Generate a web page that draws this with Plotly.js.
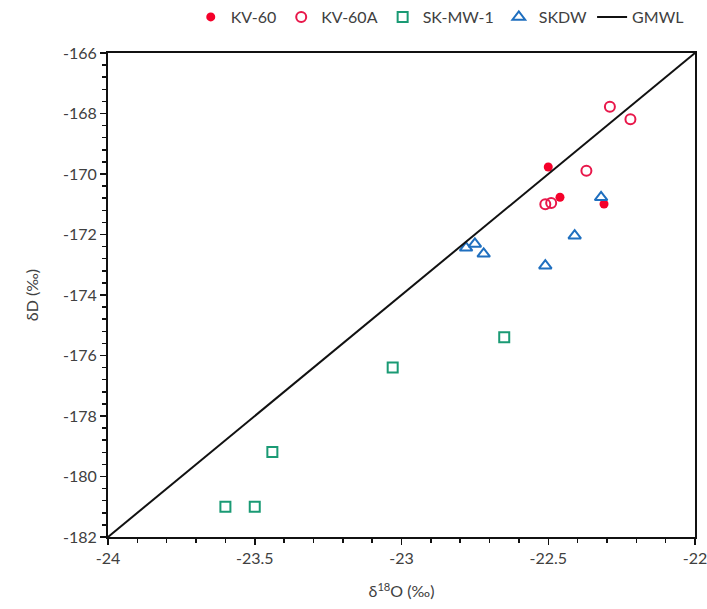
<!DOCTYPE html>
<html>
<head>
<meta charset="utf-8">
<script src="https://cdn.plot.ly/plotly-3.0.1.min.js"></script>
<style>html,body{margin:0;padding:0;background:#fff;}</style>
</head>
<body>
<div id="chart" style="width:707px;height:609px;"></div>
<script>
// KV-60 (filled circles)
const kv60_d18O = [-22.50, -22.46, -22.31];
const kv60_dD   = [-169.77, -170.77, -170.99];
// KV-60A (open circles)
const kv60a_d18O = [-22.29, -22.22, -22.37, -22.51, -22.49];
const kv60a_dD   = [-167.78, -168.19, -169.89, -171.0, -170.96];
// SK-MW-1 (open squares)
const skmw_d18O = [-22.65, -23.03, -23.44, -23.60, -23.50];
const skmw_dD   = [-175.40, -176.40, -179.19, -181.0, -181.0];
// SKDW (open triangles)
const skdw_d18O = [-22.32, -22.41, -22.51, -22.78, -22.75, -22.72];
const skdw_dD   = [-170.77, -172.04, -173.03, -172.44, -172.31, -172.64];
// GMWL: dD = 8*d18O + 10
const gmwl_d18O = [-24, -22];
const gmwl_dD = gmwl_d18O.map(x => 8 * x + 10);

// tick labels
const xTickVals = [-24, -23.5, -23, -22.5, -22];
const xTickText = ['-24', '-23.5', '-23', '-22.5', '-22'];
const yTickVals = [-166, -168, -170, -172, -174, -176, -178, -180, -182];
const yTickText = ['-166', '-168', '-170', '-172', '-174', '-176', '-178', '-180', '-182'];

const traces = [
  {x: kv60_d18O, y: kv60_dD, name: 'KV-60', mode: 'markers', type: 'scatter',
   marker: {symbol: 'circle', size: 9, color: '#f5002a'}},
  {x: kv60a_d18O, y: kv60a_dD, name: 'KV-60A', mode: 'markers', type: 'scatter',
   marker: {symbol: 'circle-open', size: 10, color: '#e8174a', line: {width: 2}}},
  {x: skmw_d18O, y: skmw_dD, name: 'SK-MW-1', mode: 'markers', type: 'scatter',
   marker: {symbol: 'square-open', size: 10, color: '#1a9a74', line: {width: 2}}},
  {x: skdw_d18O, y: skdw_dD, name: 'SKDW', mode: 'markers', type: 'scatter',
   marker: {symbol: 'triangle-up-open', size: 11, color: '#1f6fbf', line: {width: 2}}},
  {x: gmwl_d18O, y: gmwl_dD, name: 'GMWL', mode: 'lines', type: 'scatter',
   line: {color: '#111111', width: 2}}
];

const layout = {
  width: 707, height: 609,
  margin: {l: 108, r: 12, t: 53, b: 72},
  paper_bgcolor: '#ffffff', plot_bgcolor: '#ffffff',
  font: {family: 'Lato, "Open Sans", sans-serif', size: 16, color: '#404040'},
  showlegend: true,
  legend: {orientation: 'h', xref: 'container', yref: 'container',
           x: 0.622, xanchor: 'center', y: 1.0, yanchor: 'top',
           font: {size: 16, color: '#404040'}, itemwidth: 30,
           bgcolor: 'rgba(0,0,0,0)'},
  xaxis: {
    range: [-24, -22], tickmode: 'array', tickvals: xTickVals, ticktext: xTickText,
    ticklabeloverflow: 'allow',
    showgrid: false, zeroline: false,
    showline: true, linecolor: '#111', linewidth: 2, mirror: true,
    ticks: 'outside', ticklen: 6, tickwidth: 1.5, tickcolor: '#111',
    minor: {dtick: 0.1, tick0: -24, ticks: 'outside', ticklen: 4, tickwidth: 1.5, tickcolor: '#111', showgrid: false},
    title: {text: 'δ<sup>18</sup>O (‰)', font: {size: 16, color: '#404040'}, standoff: 20}
  },
  yaxis: {
    range: [-182, -166], tickmode: 'array', tickvals: yTickVals, ticktext: yTickText,
    ticklabeloverflow: 'allow',
    showgrid: false, zeroline: false,
    showline: true, linecolor: '#111', linewidth: 2, mirror: true,
    ticks: 'outside', ticklen: 6, tickwidth: 1.5, tickcolor: '#111',
    minor: {dtick: 0.4, tick0: -166, ticks: 'outside', ticklen: 4, tickwidth: 1.5, tickcolor: '#111', showgrid: false},
    title: {text: 'δD (‰)', font: {size: 16, color: '#404040'}, standoff: 20}
  }
};

Plotly.newPlot('chart', traces, layout, {displayModeBar: false, staticPlot: true});
</script>
</body>
</html>
